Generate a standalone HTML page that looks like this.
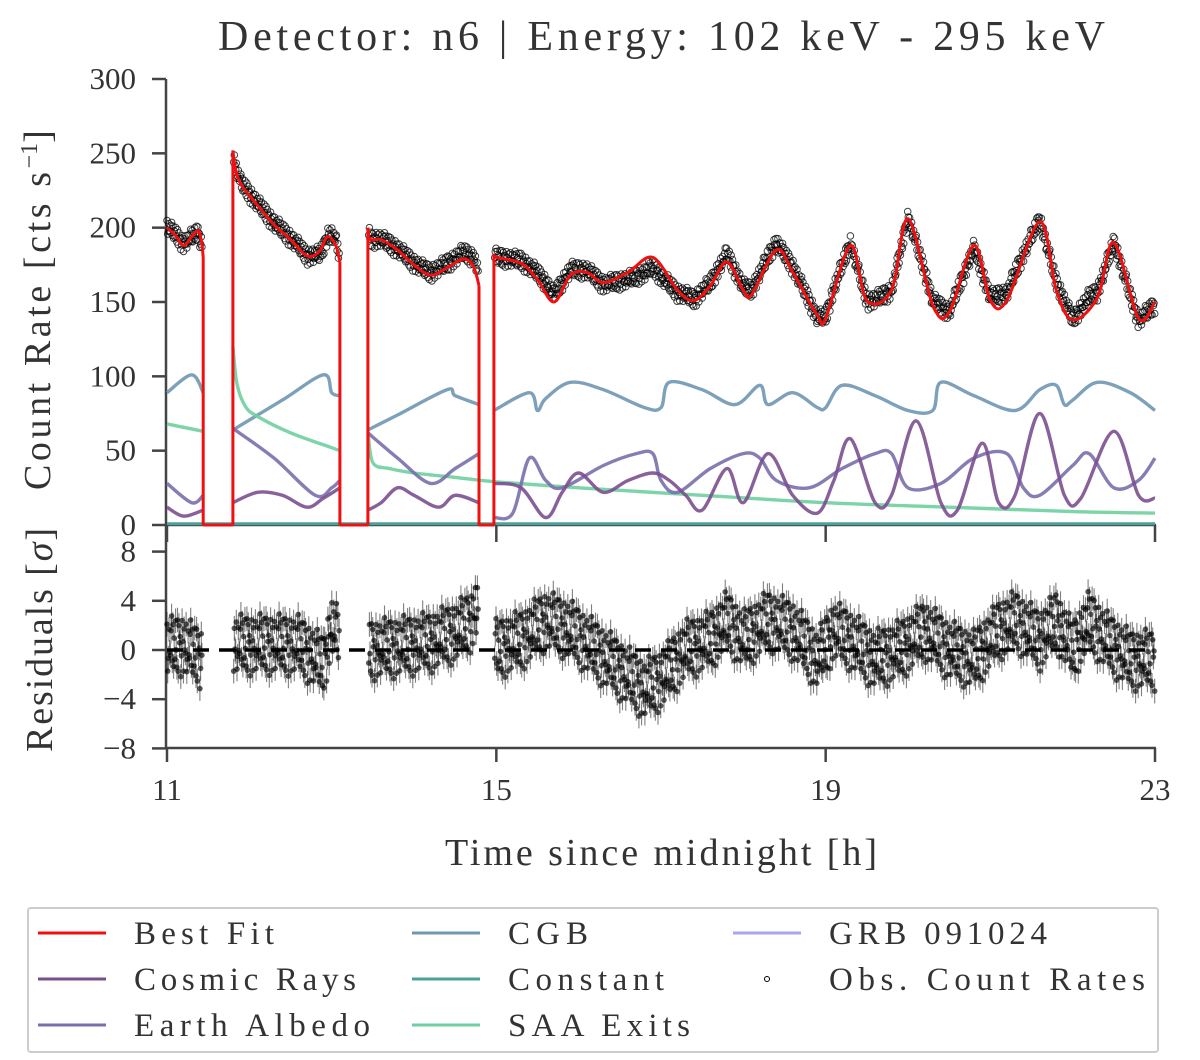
<!DOCTYPE html>
<html><head><meta charset="utf-8">
<style>
body{margin:0;background:#fff;}
svg text{font-family:"Liberation Serif",serif;fill:#333;}
</style></head>
<body>
<svg id="chart" width="1200" height="1055" viewBox="0 0 1200 1055" xmlns="http://www.w3.org/2000/svg">
<text x="218" y="50" font-size="42" textLength="887" lengthAdjust="spacing">Detector: n6 | Energy: 102 keV - 295 keV</text>
<g id="topPanel"></g>
<g id="botPanel"></g>
<text x="445" y="865" font-size="38" textLength="432" lengthAdjust="spacing">Time since midnight [h]</text>
<text transform="translate(50,490) rotate(-90)" font-size="38"><tspan textLength="318" lengthAdjust="spacing">Count Rate [cts s</tspan><tspan dy="-13" font-size="24">−1</tspan><tspan dy="13">]</tspan></text>
<text transform="translate(52,752) rotate(-90)" font-size="38" textLength="224" lengthAdjust="spacing">Residuals [<tspan font-style="italic">σ</tspan>]</text>
<g id="legendG"></g>
</svg>
<script>
// ---- data ----
const fitT=[11.0,11.1,11.2,11.3,11.38,11.42,11.44,11.44,11.80,11.80,11.83,11.9,12.1,12.3,12.5,12.7,12.85,12.95,13.05,13.1,13.1,13.44,13.44,13.47,13.6,13.8,14.0,14.2,14.4,14.6,14.72,14.79,14.79,14.97,14.97,15.0,15.3,15.5,15.7,15.9,16.1,16.3,16.6,16.9,17.2,17.4,17.6,17.8,18.0,18.1,18.4,18.6,18.9,19.0,19.3,19.5,19.8,20.0,20.3,20.5,20.8,21.0,21.2,21.6,21.8,22.0,22.3,22.5,22.8,23.0];
const fitV=[200,195,188,194,198,190,180,0,0,252,240,229,215,202,192,181,184,194,188,177,0,0,200,192,192,185,175,168,173,179,174,161,0,0,182,180,176,165,150,168,170,163,170,180,158,151,161,177,158,155,185,170,141,139,188,151,158,206,148,143,188,151,151,204,158,138,153,190,139,150];
const cgbT=[11.0,11.3,11.44,null,11.8,12.4,12.9,13.0,13.1,null,13.44,13.8,14.4,14.5,14.79,null,14.97,15.4,15.5,15.6,15.9,16.3,16.8,17.0,17.1,17.5,17.9,18.2,18.3,18.6,18.9,19.0,19.2,19.6,20.0,20.3,20.4,20.8,21.3,21.6,21.8,21.9,22.0,22.3,22.7,23.0];
const cgbV=[89,101,89,null,64,84,101,89,87,null,64,74,91,87,81,null,77,89,77,85,96,91,79,79,96,91,81,94,81,89,79,79,94,87,77,77,96,87,77,91,94,81,84,96,89,77];
const saaT=[11.0,11.44,null,11.8,11.85,11.95,12.1,12.5,13.0,13.1,null,13.44,13.5,13.7,14.0,14.5,15.0,16.0,17.5,19.0,20.5,22.0,23.0];
const saaV=[68,63,null,120,95,80,73,62,52,50,null,63,42,38,35,32,29,25,20,15,12,9,8];
const crT=[11.0,11.2,11.44,null,11.8,12.1,12.4,12.7,12.9,13.1,null,13.44,13.6,13.8,14.0,14.3,14.5,14.79,null,14.97,15.3,15.6,15.8,16.0,16.3,16.6,16.9,17.1,17.3,17.5,17.8,18.0,18.3,18.6,18.9,19.1,19.3,19.6,19.8,20.1,20.4,20.6,20.9,21.1,21.3,21.6,21.9,22.1,22.5,22.8,23.0];
const crV=[12,6,10,null,15,22,20,12,18,25,null,10,15,25,20,12,20,15,null,28,25,5,22,35,22,30,35,30,20,10,38,15,48,20,8,30,58,15,20,70,15,10,55,15,20,75,20,18,63,20,18];
const eaT=[11.0,11.3,11.44,null,11.8,12.3,12.8,13.0,13.1,null,13.44,13.8,14.2,14.5,14.79,null,14.97,15.2,15.4,15.6,15.8,16.3,16.7,16.9,17.0,17.2,17.6,18.0,18.2,18.4,18.8,19.2,19.6,19.8,20.0,20.4,20.8,21.2,21.4,21.6,22.0,22.2,22.5,22.8,23.0];
const eaV=[28,15,20,null,65,45,20,25,30,null,62,45,28,38,48,null,5,8,45,30,25,40,48,48,30,22,38,48,45,30,25,38,48,48,25,28,45,48,25,20,40,48,25,30,45];
const resT=[11.0,11.2,11.44,null,11.8,12.2,12.6,12.9,13.0,13.1,null,13.44,13.8,14.2,14.5,14.7,14.79,null,14.97,15.3,15.6,15.9,16.2,16.5,16.8,17.0,17.3,17.6,17.8,18.0,18.3,18.6,18.9,19.1,19.3,19.6,19.9,20.2,20.5,20.8,21.1,21.3,21.6,21.8,22.0,22.2,22.4,22.7,23.0];
const resV=[0.3,0.5,-1,null,0.5,0.6,0.5,-1.5,2.5,1,null,0,0.3,0.8,1.8,3,5,null,0,1,3,2,0,-2,-4,-3,0,1,3,1,3,2,-1,2,1,-1,0,2,0,-1,2,3,1,3,0,3,1,-1,-1];
const jitter=[0.9,-1.3,0.4,1.6,-0.7,-1.9,0.2,1.1,-0.4,2.0,-1.1,0.6,-1.6,1.4,-0.2,-0.9,1.8,-2.2,0.8,-0.5,1.2,-1.4,0.1,2.3,-0.3,-1.7,1.0,-0.8,0.5];
const xTicks=[11,15,19,23];
const yTicks=[0,50,100,150,200,250,300];
const rTicks=[-8,-4,0,4,8];
// ---- scales ----
const X=t=>167+(t-11)*(1155-167)/12;
const Y=v=>525-v*446/300;
const R=v=>650-v*12.3;
const NS='http://www.w3.org/2000/svg';
function mk(tag,attrs,parent){const e=document.createElementNS(NS,tag);for(const k in attrs)e.setAttribute(k,attrs[k]);parent.appendChild(e);return e;}
const topG=document.getElementById('topPanel'),botG=document.getElementById('botPanel'),leg=document.getElementById('legendG');
// smooth path: Catmull-Rom within runs; breaks at null; straight at vertical jumps / zero values
function pathOf(T,V,ys){
 const runs=[];let cur=[];
 for(let i=0;i<T.length;i++){
  if(T[i]===null){if(cur.length)runs.push(cur);cur=[];continue;}
  const p=[X(T[i]),ys(V[i]),V[i]];
  if(cur.length){const q=cur[cur.length-1];if(Math.abs(p[0]-q[0])<0.01||p[2]===0||q[2]===0){runs.push(cur);runs.push([q,p]);cur=[p];continue;}}
  cur.push(p);}
 if(cur.length)runs.push(cur);
 let d='';
 runs.forEach(r=>{if(r.length<2)return;d+='M'+r[0][0].toFixed(1)+','+r[0][1].toFixed(1);
  for(let i=0;i<r.length-1;i++){const p0=r[Math.max(0,i-1)],p1=r[i],p2=r[i+1],p3=r[Math.min(r.length-1,i+2)];
   if(r.length===2){d+='L'+p2[0].toFixed(1)+','+p2[1].toFixed(1);continue;}
   const c1x=p1[0]+(p2[0]-p0[0])/6,c1y=p1[1]+(p2[1]-p0[1])/6,c2x=p2[0]-(p3[0]-p1[0])/6,c2y=p2[1]-(p3[1]-p1[1])/6;
   d+='C'+c1x.toFixed(1)+','+c1y.toFixed(1)+' '+c2x.toFixed(1)+','+c2y.toFixed(1)+' '+p2[0].toFixed(1)+','+p2[1].toFixed(1);}});
 return d;}
function interp(T,V,t){for(let i=0;i<T.length-1;i++){if(T[i]===null||T[i+1]===null)continue;if(t>=T[i]&&t<=T[i+1]){const a=T[i+1]-T[i];if(a===0)return V[i+1];return V[i]+(V[i+1]-V[i])*(t-T[i])/a;}}return null;}
let e;
e=mk('line',{x1:166,y1:79,x2:166,y2:526,stroke:'#444','stroke-width':2.5},topG);

e=mk('line',{x1:166,y1:525,x2:1156,y2:525,stroke:'#444','stroke-width':2.5},topG);

yTicks.forEach(v=>{mk('line',{x1:152,y1:Y(v),x2:166,y2:Y(v),stroke:'#444','stroke-width':2.5},topG);
 e=mk('text',{x:136,y:Y(v)+10,'font-size':31,'text-anchor':'end'},topG);e.textContent=v;
 });
e=mk('line',{x1:166,y1:525,x2:166,y2:749,stroke:'#444','stroke-width':2.5},botG);

e=mk('line',{x1:166,y1:748,x2:1156,y2:748,stroke:'#444','stroke-width':2.5},botG);

rTicks.forEach(v=>{mk('line',{x1:152,y1:R(v),x2:166,y2:R(v),stroke:'#444','stroke-width':2.5},botG);
 e=mk('text',{x:136,y:R(v)+10,'font-size':31,'text-anchor':'end'},botG);e.textContent=(v<0?'−':'')+Math.abs(v);
 });
xTicks.forEach(t=>{mk('line',{x1:X(t),y1:525,x2:X(t),y2:542,stroke:'#444','stroke-width':2.5},botG);
 mk('line',{x1:X(t),y1:748,x2:X(t),y2:762,stroke:'#444','stroke-width':2.5},botG);
 e=mk('text',{x:X(t),y:800,'font-size':31,'text-anchor':'middle'},botG);e.textContent=t;
 });
e=mk('line',{x1:167,y1:Y(0.8),x2:1155,y2:Y(0.8),stroke:'#4aa29a','stroke-width':3},topG);

const comps=[[cgbT,cgbV,'#6f97b3','cgb-line'],[saaT,saaV,'#6fcf9f','saa-exits-line'],[eaT,eaV,'#7a6fad','earth-albedo-line'],[crT,crV,'#7b4f8f','cosmic-rays-line']];
comps.forEach(c=>{e=mk('path',{d:pathOf(c[0],c[1],Y),fill:'none',stroke:c[2],'stroke-width':3.4,'stroke-opacity':0.9,'stroke-linejoin':'round'},topG);
 });
const segs=[[11.0,11.43],[11.81,13.09],[13.45,14.78],[14.98,23.0]];
const obs=mk('g',{},topG);
const rg=mk('g',{},botG);
let k=0;
segs.forEach(s=>{for(let t=s[0];t<=s[1];t+=0.008){const f=interp(fitT,fitV,t);const r=interp(resT,resV,t);if(f===null||r===null)continue;
 const j=jitter[k%jitter.length];const j2=jitter[(k*7+3)%jitter.length];k++;
 const rv=r*0.8+j*1.0+j2*0.6;
 const v=f+rv*2.3;
 mk('circle',{cx:X(t).toFixed(1),cy:Y(v).toFixed(1),r:3.3,fill:'none',stroke:'#000','stroke-width':1,'stroke-opacity':0.75},obs);
 mk('line',{x1:X(t).toFixed(1),y1:R(rv+1).toFixed(1),x2:X(t).toFixed(1),y2:R(rv-1).toFixed(1),stroke:'#000','stroke-width':1.1,'stroke-opacity':0.5},rg);
 mk('circle',{cx:X(t).toFixed(1),cy:R(rv).toFixed(1),r:2.8,fill:'#000','fill-opacity':0.65},rg);}});
e=mk('line',{x1:167,y1:R(0),x2:1155,y2:R(0),stroke:'#000','stroke-width':3.5,'stroke-dasharray':'16,10'},botG);

e=mk('path',{d:pathOf(fitT,fitV,Y),fill:'none',stroke:'#f01010','stroke-width':3,'stroke-linejoin':'round'},topG);

e=mk('rect',{x:28,y:908,width:1130,height:144,fill:'#fff',stroke:'#ccc','stroke-width':2,rx:3},leg);

const items=[['Best Fit','#f01010',38,933,140],['Cosmic Rays','#7b4f8f',38,979,222],['Earth Albedo','#7a6fad',38,1025,236],['CGB','#6f97b3',412,933,80],['Constant','#4aa29a',412,979,156],['SAA Exits','#6fcf9f',412,1025,182],['GRB 091024','#a9a6f0',733,933,218],['Obs. Count Rates',null,733,979,316]];
items.forEach(it=>{if(it[1])mk('line',{x1:it[2],y1:it[3],x2:it[2]+68,y2:it[3],stroke:it[1],'stroke-width':3},leg);
 else mk('circle',{cx:it[2]+34,cy:it[3],r:2.5,fill:'none',stroke:'#000','stroke-width':1},leg);
 e=mk('text',{x:it[2]+96,y:it[3]+11,'font-size':33,textLength:it[4],lengthAdjust:'spacing'},leg);e.textContent=it[0];
 });
</script>
</body></html>
